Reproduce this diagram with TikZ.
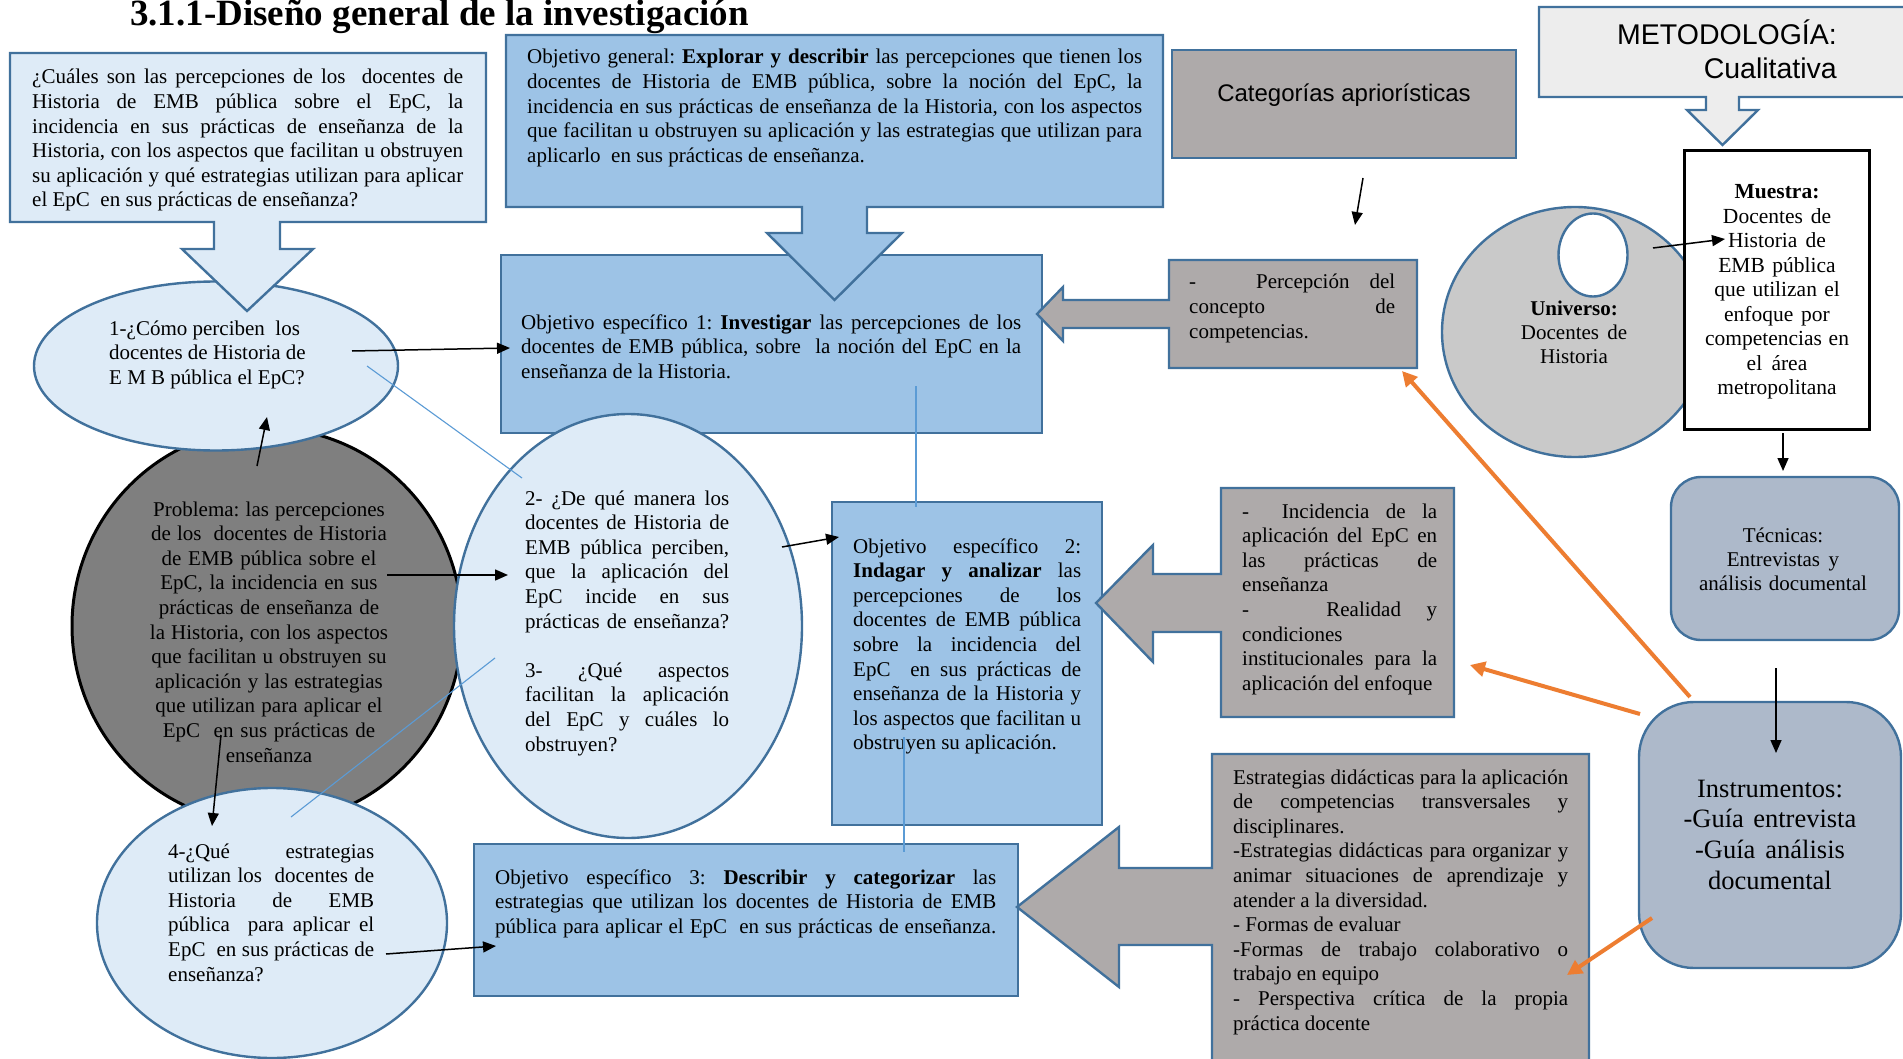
\documentclass[tikz,border=0pt]{standalone}
\usepackage{fontspec}
\setmainfont{Liberation Serif}
\setsansfont{Liberation Sans}
\usetikzlibrary{arrows.meta, positioning, shapes.geometric, calc}
\usepackage{xcolor}

\definecolor{bordeazul}{HTML}{41719C}
\definecolor{azulclaro}{HTML}{DEEBF7}
\definecolor{azulmedio}{HTML}{9DC3E6}
\definecolor{grisbox}{HTML}{AEAAAA}
\definecolor{grisoscuro}{HTML}{7F7F7F}
\definecolor{grisuni}{HTML}{C9C9C9}
\definecolor{grismet}{HTML}{EDEDED}
\definecolor{azulgris}{HTML}{ADB9CA}
\definecolor{naranja}{HTML}{ED7D31}
\definecolor{lineazul}{HTML}{5B9BD5}

\newcommand{\esp}{\frenchspacing\spaceskip=0pt\xspaceskip=0pt\hyphenpenalty=10000\relax}
\newcommand{\jl}[1]{\makebox[\hsize][s]{\esp #1}}
\newcommand{\txt}{\fontsize{21}{24.6}\selectfont}

\tikzset{
  forma/.style={draw=bordeazul, line width=2.4pt},
  elipse/.style={ellipse, forma, fill=azulclaro, inner sep=0pt},
  caja/.style={rectangle, forma, inner sep=0pt},
  texto/.style={inner sep=0pt, anchor=base west, align=left, font=\txt, execute at begin node=\esp},
  centrado/.style={inner sep=0pt, anchor=base, align=center, font=\txt, execute at begin node=\esp},
  flecha/.style={line width=1.5pt, -{Triangle[length=13pt,width=11pt]}},
  flechanar/.style={draw=naranja, line width=4pt, -{Triangle[length=15pt,width=15pt]}},
  guia/.style={draw=lineazul, line width=1.1pt}
}

\begin{document}
\begin{tikzpicture}[x=1pt, y=-1pt]
\useasboundingbox (0,0) rectangle (1903,1059);
\fill[white] (0,0) rectangle (1903,1059);

\node[anchor=base west, inner sep=0pt, font=\fontsize{37}{40}\selectfont\bfseries] (titulo) at (130,26) {3.1.1-Diseño general de la investigación};

% problema y preguntas
\node[ellipse, draw=black, line width=3pt, fill=grisoscuro, minimum width=390pt, minimum height=396pt, inner sep=0pt] (pb) at (267,626) {};
\node[elipse, minimum width=364pt, minimum height=169pt] (e1) at (216,366) {};
\node[elipse, minimum width=350pt, minimum height=270pt] (e4) at (272,923) {};
\draw[forma, fill=azulclaro] (10,53) -- (486,53) -- (486,222) -- (280,222) -- (280,249) -- (313,249) -- (247,311) -- (182,249) -- (214,249) -- (214,222) -- (10,222) -- cycle;

% objetivos
\node[caja, fill=azulmedio, minimum width=541pt, minimum height=178pt] (o1) at (771.5,344) {};
\node[elipse, minimum width=348pt, minimum height=424pt] (e2) at (628,626) {};
\draw[forma, fill=azulmedio] (506,35) -- (1163,35) -- (1163,207) -- (867,207) -- (867,233) -- (902,233) -- (834.5,300) -- (767,233) -- (802,233) -- (802,207) -- (506,207) -- cycle;
\node[caja, fill=azulmedio, minimum width=270pt, minimum height=323pt] (o2) at (967,663.5) {};
\node[caja, fill=azulmedio, minimum width=544pt, minimum height=152pt] (o3) at (746,920) {};

% categorias
\node[caja, fill=grisbox, minimum width=344pt, minimum height=108pt] (cat) at (1344,104) {};
\draw[forma, fill=grisbox] (1169,260) -- (1417,260) -- (1417,368) -- (1169,368) -- (1169,328) -- (1063,328) -- (1063,341) -- (1037,314) -- (1063,287) -- (1063,300) -- (1169,300) -- cycle;
\draw[forma, fill=grisbox] (1221,488) -- (1454,488) -- (1454,717) -- (1221,717) -- (1221,632) -- (1153,632) -- (1153,662) -- (1096,603) -- (1153,545) -- (1153,574) -- (1221,574) -- cycle;
\draw[forma, fill=grisbox] (1212,754) -- (1589,754) -- (1589,1075) -- (1212,1075) -- (1212,945) -- (1119,945) -- (1119,987) -- (1017,907) -- (1119,827) -- (1119,868) -- (1212,868) -- cycle;

% metodologia
\draw[forma, fill=grismet] (1539,7) -- (1915,7) -- (1915,97) -- (1739,97) -- (1739,110) -- (1758,110) -- (1722.5,145) -- (1687,110) -- (1706,110) -- (1706,97) -- (1539,97) -- cycle;
\node[ellipse, forma, fill=grisuni, minimum width=266pt, minimum height=250pt, inner sep=0pt] (uni) at (1575,332) {};
\node[ellipse, forma, fill=white, minimum width=69pt, minimum height=83pt, inner sep=0pt] (unin) at (1593,255) {};
\node[rectangle, draw=black, line width=3pt, fill=white, minimum width=185pt, minimum height=278pt, inner sep=0pt] (mue) at (1776.5,290) {};
\node[caja, fill=azulgris, rounded corners=30pt, minimum width=228pt, minimum height=163pt] (tec) at (1785,558.5) {};
\node[caja, fill=azulgris, rounded corners=55pt, minimum width=262pt, minimum height=266pt] (ins) at (1770,835) {};

% textos
\node[texto, text width=431pt] (qt) at (32,84) {\jl{¿Cuáles son las percepciones de los\ \ docentes de}\\ \jl{Historia de EMB pública sobre el EpC, la}\\ \jl{incidencia en sus prácticas de enseñanza de la}\\ \jl{Historia, con los aspectos que facilitan u obstruyen}\\ \jl{su aplicación y qué estrategias utilizan para aplicar}\\ el EpC\ \ en sus prácticas de enseñanza?};
\node[texto, text width=615pt] (ogt) at (527,64) {\jl{Objetivo general: \textbf{Explorar y describir} las percepciones que tienen los}\\ \jl{docentes de Historia de EMB pública, sobre la noción del EpC, la}\\ \jl{incidencia en sus prácticas de enseñanza de la Historia, con los aspectos}\\ \jl{que facilitan u obstruyen su aplicación y las estrategias que utilizan para}\\ aplicarlo\ \ en sus prácticas de enseñanza.};
\node[texto, text width=500pt] (o1t) at (521,329) {\jl{Objetivo específico 1: \textbf{Investigar} las percepciones de los}\\ \jl{docentes de EMB pública, sobre\ \ la noción del EpC en la}\\ enseñanza de la Historia.};
\node[texto, text width=230pt] (e1t) at (109,335) {1-¿Cómo perciben\ \ los\\ docentes de Historia de\\ E M B pública el EpC?};
\node[centrado, text width=262pt] (pbt) at (269,516) {Problema: las percepciones\\ de los\ \ docentes de Historia\\ de EMB pública sobre el\\ EpC, la incidencia en sus\\ prácticas de enseñanza de\\ la Historia, con los aspectos\\ que facilitan u obstruyen su\\ aplicación y las estrategias\\ que utilizan para aplicar el\\ EpC\ \ en sus prácticas de\\ enseñanza};
\node[texto, text width=204pt] (e2t) at (525,505) {\jl{2- ¿De qué manera los}\\ \jl{docentes de Historia de}\\ \jl{EMB pública perciben,}\\ \jl{que la aplicación del}\\ \jl{EpC incide en sus}\\ \jl{prácticas de enseñanza?}\\[24.6pt] \jl{3- ¿Qué aspectos}\\ \jl{facilitan la aplicación}\\ \jl{del EpC y cuáles lo}\\ obstruyen?};
\node[texto, text width=228pt] (o2t) at (853,553) {\jl{Objetivo específico 2:}\\ \jl{\textbf{Indagar y analizar} las}\\ \jl{percepciones de los}\\ \jl{docentes de EMB pública}\\ \jl{sobre la incidencia del}\\ \jl{EpC\ \ en sus prácticas de}\\ \jl{enseñanza de la Historia y}\\ \jl{los aspectos que facilitan u}\\ obstruyen su aplicación.};
\node[texto, text width=206pt] (e4t) at (168,858) {\jl{4-¿Qué estrategias}\\ \jl{utilizan los\ \ docentes de}\\ \jl{Historia de EMB}\\ \jl{pública\ \ para aplicar el}\\ \jl{EpC\ \ en sus prácticas de}\\ enseñanza?};
\node[texto, text width=501pt] (o3t) at (495,884) {\jl{Objetivo específico 3: \textbf{Describir y categorizar} las}\\ \jl{estrategias que utilizan los docentes de Historia de EMB}\\ \jl{pública para aplicar el EpC\ \ en sus prácticas de enseñanza.}};
\node[centrado, font=\fontsize{24}{28}\sffamily] (catt) at (1344,102) {Categorías apriorísticas};
\node[texto, text width=206pt] (pct) at (1189,289) {\jl{-\ \ \ Percepción del}\\ \jl{concepto de}\\ competencias.};
\node[texto, text width=195pt] (ict) at (1242,518) {\jl{-\ \ Incidencia de la}\\ \jl{aplicación del EpC en}\\ \jl{las prácticas de}\\ enseñanza\\ \jl{-\ \ \ Realidad y}\\ condiciones\\ \jl{institucionales para la}\\ aplicación del enfoque};
\node[texto, text width=335pt] (est) at (1233,784) {\jl{Estrategias didácticas para la aplicación}\\ \jl{de competencias transversales y}\\ disciplinares.\\ \jl{-Estrategias didácticas para organizar y}\\ \jl{animar situaciones de aprendizaje y}\\ atender a la diversidad.\\ - Formas de evaluar\\ \jl{-Formas de trabajo colaborativo o}\\ trabajo en equipo\\ \jl{- Perspectiva crítica de la propia}\\ práctica docente};
\node[inner sep=0pt, anchor=base east, align=right, text width=260pt, font=\fontsize{28.5}{34}\sffamily] (mett) at (1837,45) {METODOLOGÍA:\\ Cualitativa};
\node[centrado, text width=200pt, font=\fontsize{21}{24}\selectfont] (unit) at (1574,316) {\textbf{Universo:}\\ Docentes de\\ Historia};
\node[centrado, text width=185pt, font=\fontsize{21.5}{24.5}\selectfont] (muet) at (1777,199) {\textbf{Muestra:}\\ Docentes de\\ Historia de\\ EMB pública\\ que utilizan el\\ enfoque por\\ competencias en\\ el área\\ metropolitana};
\node[centrado, text width=220pt, font=\fontsize{21}{24}\selectfont] (tect) at (1783,542) {Técnicas:\\ Entrevistas y\\ análisis documental};
\node[centrado, text width=260pt, font=\fontsize{26.5}{30.7}\selectfont] (inst) at (1770,797) {Instrumentos:\\ -Guía entrevista\\ -Guía análisis\\ documental};

% puntos de los conectores
\coordinate (pbA) at (257,466);   \coordinate (e1A) at (267,417);
\coordinate (pbB) at (387,575);   \coordinate (e2A) at (508,575);
\coordinate (pbC) at (221,735);   \coordinate (e4A) at (212,826);
\coordinate (e1B) at (352,351);   \coordinate (o1A) at (510,348);
\coordinate (e2B) at (782,547);   \coordinate (o2A) at (839,537);
\coordinate (e4B) at (386,954);   \coordinate (o3A) at (496,946);
\coordinate (catA) at (1363,178); \coordinate (catB) at (1355,225);
\coordinate (uniA) at (1653,248); \coordinate (mueA) at (1725,239);
\coordinate (mueB) at (1783,433); \coordinate (tecA) at (1783,471);
\coordinate (tecB) at (1776,668); \coordinate (insA) at (1776,753);
\coordinate (insB) at (1690,697); \coordinate (pcA) at (1402,371);
\coordinate (insC) at (1640,714); \coordinate (icA) at (1470,665);
\coordinate (insD) at (1652,918); \coordinate (esA) at (1567,975);

\draw[guia] (367,366) -- (522,478);
\draw[guia] (291,817) -- (495,658);
\draw[guia] (916,386) -- (916,507);
\draw[guia] (904,737) -- (904,852);

\draw[flecha] (pbA) -- (e1A);
\draw[flecha] (pbB) -- (e2A);
\draw[flecha] (pbC) -- (e4A);
\draw[flecha] (e1B) -- (o1A);
\draw[flecha] (e2B) -- (o2A);
\draw[flecha] (e4B) -- (o3A);
\draw[flecha] (catA) -- (catB);
\draw[flecha] (uniA) -- (mueA);
\draw[flecha] (mueB) -- (tecA);
\draw[flecha] (tecB) -- (insA);

\draw[flechanar] (insB) -- (pcA);
\draw[flechanar] (insC) -- (icA);
\draw[flechanar] (insD) -- (esA);
\end{tikzpicture}
\end{document}
